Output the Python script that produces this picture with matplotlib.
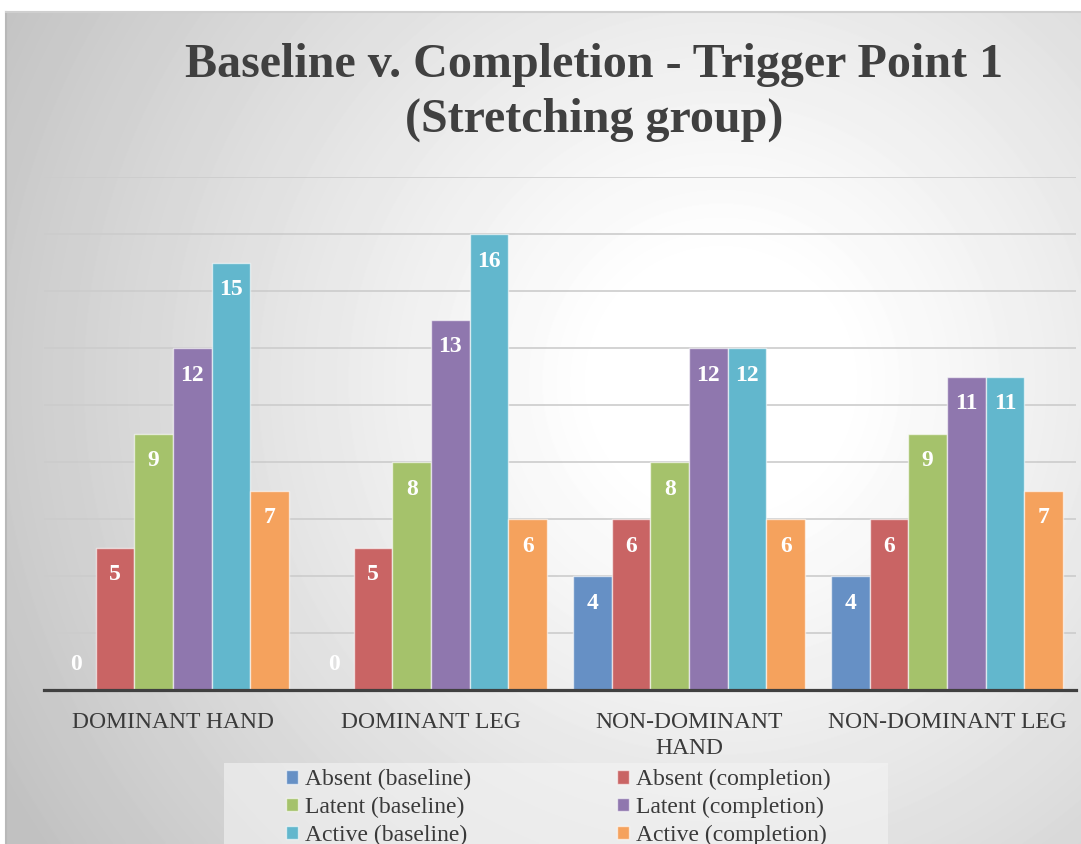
import numpy as np
import matplotlib.pyplot as plt
from matplotlib.patches import Rectangle

categories = ["DOMINANT HAND", "DOMINANT LEG", "NON-DOMINANT\nHAND", "NON-DOMINANT LEG"]
series_names = ["Absent (baseline)", "Absent (completion)", "Latent (baseline)",
                "Latent (completion)", "Active (baseline)", "Active (completion)"]
absent_baseline = [0, 0, 4, 4]
absent_completion = [5, 5, 6, 6]
latent_baseline = [9, 8, 8, 9]
latent_completion = [12, 13, 12, 11]
active_baseline = [15, 16, 12, 11]
active_completion = [7, 6, 6, 7]
series = [absent_baseline, absent_completion, latent_baseline,
          latent_completion, active_baseline, active_completion]
colors = ["#6690c5", "#c96464", "#a5c26b", "#8f77ae", "#62b7cd", "#f5a25d"]

W, H = 1081, 844
fig = plt.figure(figsize=(W / 100, H / 100), dpi=100)
fig.patch.set_facecolor("white")

# radial grey background of the chart area
bg = fig.add_axes([6 / W, 0, (W - 6) / W, (H - 12) / H])
yy, xx = np.mgrid[0:H - 12, 0:W - 6]
r = np.hypot(xx - 715, yy - 370)
shade = 1 - 0.24 * np.clip((r - 120) / 700, 0, 1) ** 1.1
bg.imshow(shade, cmap="gray", vmin=0, vmax=1, aspect="auto", interpolation="bilinear")
bg.set_axis_off()
fig.add_artist(plt.Line2D([6 / W, 6 / W], [0, (H - 12) / H], color="#b8b8b8", lw=1.5))
fig.add_artist(plt.Line2D([6 / W, 1], [(H - 12) / H, (H - 12) / H], color="#cfcfcf", lw=1.5))

ax = fig.add_axes([44 / W, (H - 690) / H, (1076 - 44) / W, (690 - 177) / H])
ax.set_facecolor("none")

x = np.arange(len(categories))
bw = 0.15
serif = "Liberation Serif"
for i, (vals, c) in enumerate(zip(series, colors)):
    pos = x + (i - 2.5) * bw
    ax.bar(pos, vals, bw, color=c, edgecolor=(1, 1, 1, 0.6), linewidth=1, zorder=3)
    for p, v in zip(pos, vals):
        ax.text(p, v - 0.95 if v > 0 else 0.9, str(v), ha="center", va="center",
                color="white", fontsize=17, fontweight="bold", family=serif, zorder=4)

ax.set_xlim(-0.5, 3.5)
ax.set_ylim(0, 18)
ax.set_yticks(np.arange(0, 19, 2))
ax.yaxis.grid(True, color="#cccccc", lw=1.2, zorder=0)
ax.tick_params(axis="y", left=False, labelleft=False)
ax.set_xticks(x)
ax.set_xticklabels(categories, family=serif, fontsize=17, color="#3a3a3a", linespacing=1.3)
ax.tick_params(axis="x", length=0, pad=16)
for s in ["top", "right", "left"]:
    ax.spines[s].set_visible(False)
ax.spines["bottom"].set_color("#404040")
ax.spines["bottom"].set_linewidth(2.3)
ax.spines["bottom"].set_zorder(5)

title_kw = dict(ha="center", va="baseline", family=serif, fontsize=34.6,
                fontweight="bold", color="#404040")
fig.text(594 / W, 1 - 77 / H, "Baseline v. Completion - Trigger Point 1", **title_kw)
fig.text(594 / W, 1 - 132 / H, "(Stretching group)", **title_kw)

# legend
fig.add_artist(Rectangle((224 / W, 0), (888 - 224) / W, (H - 763) / H,
                         transform=fig.transFigure, facecolor="#f4f4f4", alpha=0.6,
                         edgecolor="none"))
handles = [Rectangle((0, 0), 1, 1, facecolor=c, edgecolor=(1, 1, 1, 0.6)) for c in colors]
order = [0, 2, 4, 1, 3, 5]
fig.legend([handles[k] for k in order], [series_names[k] for k in order], ncol=2,
           loc="upper left", bbox_to_anchor=(286 / W, 1 - 769 / H), frameon=False,
           prop={"family": serif, "size": 17}, handlelength=0.5, handleheight=0.5,
           handletextpad=0.3, columnspacing=6.2, labelspacing=0.28, borderpad=0,
           borderaxespad=0, labelcolor="#3a3a3a")

fig.savefig("out.png", dpi=100)
